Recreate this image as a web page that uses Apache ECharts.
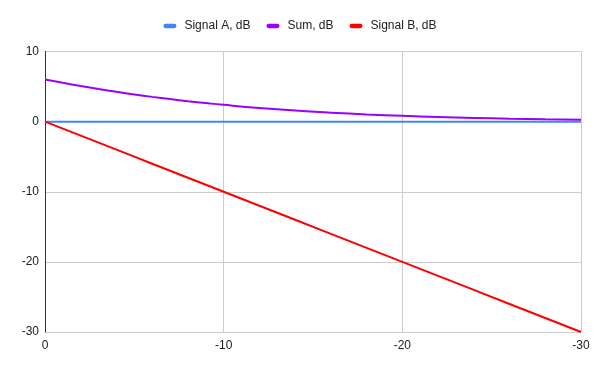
<!DOCTYPE html>
<html>
<head>
<meta charset="utf-8">
<script src="https://cdn.jsdelivr.net/npm/echarts@6/dist/echarts.min.js"></script>
<style>html,body{margin:0;padding:0;background:#fff;}#c{width:600px;height:371px;}</style>
</head>
<body>
<div id="c"></div>
<script>
var xValues = [0, -1, -2, -3, -4, -5, -6, -7, -8, -9, -10, -12, -14, -16, -18, -20, -22, -24, -26, -28, -30];
var signalA = [0, 0, 0, 0, 0, 0, 0, 0, 0, 0, 0, 0, 0, 0, 0, 0, 0, 0, 0, 0, 0];
var sumDb = [6.02, 5.54, 5.08, 4.65, 4.25, 3.88, 3.53, 3.21, 2.91, 2.64, 2.39, 1.95, 1.58, 1.28, 1.03, 0.83, 0.66, 0.53, 0.42, 0.34, 0.27];
var signalB = [0, -1, -2, -3, -4, -5, -6, -7, -8, -9, -10, -12, -14, -16, -18, -20, -22, -24, -26, -28, -30];
var seriesNames = ['Signal A, dB', 'Sum, dB', 'Signal B, dB'];

function pairs(ys) { return xValues.map(function (x, i) { return [x, ys[i]]; }); }

var chart = echarts.init(document.getElementById('c'));
var legendIcon = 'path://M2,0 L10,0 A2,2 0 0 1 10,4 L2,4 A2,2 0 0 1 2,0 Z';
chart.setOption({
  animation: false,
  textStyle: { fontFamily: 'Liberation Sans, Arial, sans-serif' },
  legend: {
    top: 15,
    left: 'center',
    itemWidth: 13,
    itemHeight: 5,
    itemGap: 16,
    textStyle: { color: '#222', fontSize: 12, padding: [0, 0, 0, 3], fontFamily: 'Liberation Sans, Arial, sans-serif' },
    data: [
      { name: seriesNames[0], icon: legendIcon },
      { name: seriesNames[1], icon: legendIcon },
      { name: seriesNames[2], icon: legendIcon }
    ]
  },
  grid: { left: 45, right: 19, top: 51.5, bottom: 39, containLabel: false },
  xAxis: {
    type: 'value',
    min: -30,
    max: 0,
    interval: 10,
    inverse: true,
    axisLine: { show: false },
    axisTick: { show: false },
    axisLabel: { color: '#222', fontSize: 12, margin: 8 },
    splitLine: { show: true, lineStyle: { color: '#cccccc', width: 1 } }
  },
  yAxis: {
    type: 'value',
    min: -30,
    max: 10,
    interval: 10,
    axisLine: { show: true, onZero: false, lineStyle: { color: '#333', width: 1 } },
    axisTick: { show: false },
    axisLabel: { color: '#222', fontSize: 12, margin: 6 },
    splitLine: { show: true, lineStyle: { color: '#cccccc', width: 1 } }
  },
  series: [
    { name: seriesNames[0], type: 'line', data: pairs(signalA), showSymbol: false, symbol: 'none', lineStyle: { color: '#4285f4', width: 2 }, itemStyle: { color: '#4285f4' } },
    { name: seriesNames[1], type: 'line', data: pairs(sumDb), smooth: true, showSymbol: false, symbol: 'none', lineStyle: { color: '#9900ff', width: 2 }, itemStyle: { color: '#9900ff' } },
    { name: seriesNames[2], type: 'line', data: pairs(signalB), showSymbol: false, symbol: 'none', lineStyle: { color: '#ff0000', width: 2 }, itemStyle: { color: '#ff0000' } }
  ]
});
</script>
</body>
</html>
